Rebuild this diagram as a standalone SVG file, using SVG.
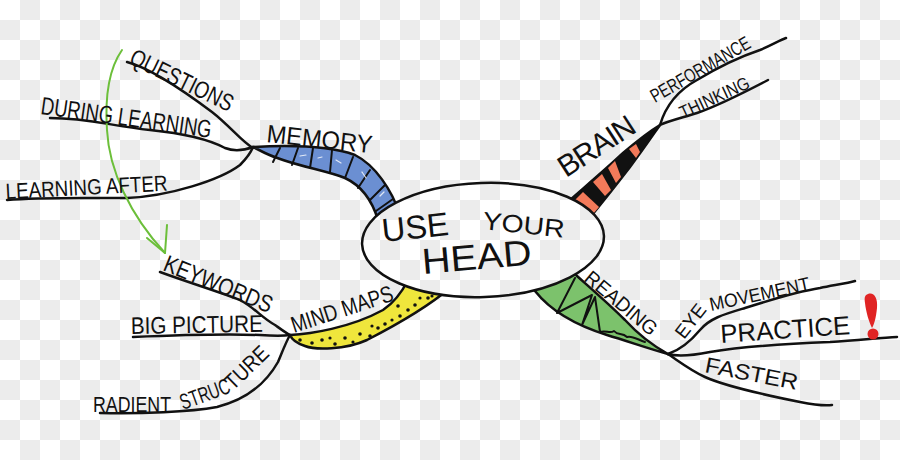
<svg xmlns="http://www.w3.org/2000/svg" width="900" height="460" viewBox="0 0 900 460">
<defs>
<pattern id="chk" width="40" height="40" patternUnits="userSpaceOnUse">
<rect width="40" height="40" fill="#ffffff"/>
<rect x="20" y="0" width="20" height="20" fill="#ececec"/>
<rect x="0" y="20" width="20" height="20" fill="#ececec"/>
</pattern>
<mask id="outside" maskUnits="userSpaceOnUse" x="0" y="0" width="900" height="460">
<rect width="900" height="460" fill="#fff"/>
<ellipse cx="483" cy="240" rx="121" ry="57" transform="rotate(-2 483 240)" fill="#000"/>
</mask>
</defs>
<style>
.ln{fill:none;stroke:#111;stroke-width:2.5;stroke-linecap:round;stroke-linejoin:round}
.thin{fill:none;stroke:#111;stroke-width:2;stroke-linecap:round;stroke-linejoin:round}
.band{stroke:#111;stroke-width:2.5;stroke-linejoin:round}
.t{font-family:"Liberation Sans","DejaVu Sans",sans-serif;fill:#111}
.hl{fill:none;stroke:#fff;stroke-width:1.2;stroke-linecap:round;opacity:0.8}
</style>
<rect width="900" height="460" fill="url(#chk)"/>

<g id="connectors">
<path class="ln" d="M127,62 C150,68 180,88 212,112 C230,126 242,142 253,148"/>
<path class="ln" d="M50,118 C90,118 110,126 150,130 C190,134 210,140 225,148 C235,152 245,150 253,147"/>
<path class="ln" d="M7,200 C40,197 80,198 127,198 C170,196 220,180 240,165 C247,158 251,152 253,147"/>
<path class="ln" d="M160,272 C190,283 220,292 240,300 C255,308 262,318 275,325 C282,330 286,333 290,335"/>
<path class="ln" d="M133,337 C180,335 230,334 260,335 C275,336 283,336 290,335"/>
<path class="ln" d="M100,413 C140,414 190,412 217,407 C245,400 265,385 278,362 C283,350 286,342 290,335"/>
<path class="ln" d="M660,125 C665,108 675,92 697,80 C720,66 745,55 760,50 C772,45 780,40 786,38"/>
<path class="ln" d="M660,125 C668,121 685,117 697,113 C720,105 745,92 768,80"/>
<path class="ln" d="M668,354 C680,350 690,342 700,330 C710,318 725,314 745,308 C770,300 795,292 820,288 C835,285 848,283 855,281"/>
<path class="ln" d="M668,354 C675,356 690,356 710,352 C740,347 780,344 830,342 C860,340 880,338 897,337"/>
<path class="ln" d="M668,354 C680,362 690,370 705,377 C725,386 760,394 800,402 C815,405 825,406 832,405"/>
<path d="M122,50 C108,70 105,100 107,130 C109,170 130,215 165,253" fill="none" stroke="#6cbf3a" stroke-width="2" stroke-linecap="round"/>
<path d="M147,238 L165,253 L167,225" fill="none" stroke="#6cbf3a" stroke-width="2" stroke-linecap="round" stroke-linejoin="round"/>
</g>

<g id="node-memory">
<g mask="url(#outside)">
<path class="band" fill="#6b8fd2" d="M253,147 C290,145 330,146 355,155 C375,165 392,190 400,215 L378,220 C372,200 360,185 345,178 C325,170 290,165 265,153 Z"/>
<g class="thin">
<path d="M280,148 L273,162"/><path d="M298,148 L292,165"/><path d="M313,148 L310,168"/>
<path d="M332,150 L330,172"/><path d="M353,157 L345,178"/><path d="M370,170 L358,188"/>
<path d="M385,185 L370,200"/><path d="M393,199 L376,211"/>
</g>
<g class="hl"><path d="M300,156 L306,155"/><path d="M336,160 L341,163"/><path d="M362,172 L366,178"/><path d="M380,196 L384,192"/><path d="M318,158 L322,157"/></g>
</g>
<text class="t" font-size="25" textLength="106" lengthAdjust="spacingAndGlyphs" transform="translate(266,142) rotate(6)">MEMORY</text>
</g>

<g id="node-mindmaps">
<g mask="url(#outside)">
<path class="band" fill="#efe63c" d="M290,335 C310,334 350,328 383,310 C395,302 402,292 408,280 L450,288 C430,305 400,323 367,340 C345,350 315,350 305,346 C296,343 292,340 290,335 Z"/>
<g fill="#111">
<circle cx="300" cy="340" r="1.8"/><circle cx="312" cy="343" r="1.8"/><circle cx="322" cy="340" r="1.8"/>
<circle cx="335" cy="344" r="1.8"/><circle cx="345" cy="338" r="1.8"/><circle cx="353" cy="342" r="1.6"/>
<circle cx="360" cy="334" r="1.8"/><circle cx="370" cy="336" r="1.8"/><circle cx="378" cy="328" r="1.8"/>
<circle cx="385" cy="324" r="1.8"/><circle cx="392" cy="320" r="1.6"/><circle cx="400" cy="316" r="1.8"/>
<circle cx="408" cy="310" r="1.8"/><circle cx="415" cy="305" r="1.8"/><circle cx="420" cy="298" r="1.6"/>
<circle cx="428" cy="298" r="1.8"/><circle cx="432" cy="296" r="1.6"/><circle cx="398" cy="306" r="1.8"/>
<circle cx="372" cy="326" r="1.6"/><circle cx="330" cy="338" r="1.6"/>
</g>
</g>
<text class="t" font-size="23" textLength="106" lengthAdjust="spacingAndGlyphs" transform="translate(294,333) rotate(-18)">MIND MAPS</text>
</g>

<g id="node-brain">
<g mask="url(#outside)">
<path class="band" fill="#111" d="M563,207 L570,200 C580,191 605,170 623,153 C637,141 650,131 660,125 C655,132 645,147 630,167 C620,180 610,193 592,215 L585,222 Z"/>
<g fill="#f37a5a">
<path d="M574,201 L583,192 L599,207 L593,214 Z"/>
<path d="M593,182 L602,174 L611,190 L605,196 Z"/>
<path d="M608,168 L615,161 L621,177 L616,183 Z"/>
<path d="M629,149 L636,144 L640,152 L636,158 Z"/>
</g>
</g>
<text class="t" font-size="30" textLength="86" lengthAdjust="spacing" transform="translate(566,178) rotate(-33)">BRAIN</text>
</g>

<g id="node-reading">
<g mask="url(#outside)">
<path class="band" fill="#7cc26c" d="M530,285 L535,291 C550,310 575,325 607,335 C630,342 650,349 668,354 C650,344 636,332 625,320 C610,305 595,292 577,276 L572,270 Z"/>
<path class="thin" d="M575,278 L557,313 L592,295 L582,325 L595,297 L600,332 C606,330 610,334 614,331 C618,336 622,332 627,337 C632,335 638,340 645,342"/>
</g>
<text class="t" font-size="20" textLength="88" lengthAdjust="spacingAndGlyphs" transform="translate(583,280) rotate(40)">READING</text>
</g>

<g id="node-center">
<ellipse cx="483" cy="240" rx="121" ry="57" transform="rotate(-2 483 240)" fill="none" stroke="#111" stroke-width="2.5"/>
<text class="t" font-size="33" textLength="67" lengthAdjust="spacingAndGlyphs" transform="translate(383,242) rotate(-6)">USE</text>
<text class="t" font-size="25" textLength="82" lengthAdjust="spacingAndGlyphs" transform="translate(482,229) rotate(6)">YOUR</text>
<text class="t" font-size="36" textLength="110" lengthAdjust="spacingAndGlyphs" transform="translate(423,274) rotate(-5)">HEAD</text>
</g>

<g id="node-questions"><text class="t" font-size="24" textLength="112" lengthAdjust="spacingAndGlyphs" transform="translate(128,63) rotate(26)">QUESTIONS</text></g>
<g id="node-during-learning"><text class="t" font-size="25" textLength="172" lengthAdjust="spacingAndGlyphs" transform="translate(40,114) rotate(8)">DURING LEARNING</text></g>
<g id="node-learning-after"><text class="t" font-size="22" textLength="162" lengthAdjust="spacingAndGlyphs" transform="translate(6,199) rotate(-3)">LEARNING AFTER</text></g>
<g id="node-keywords"><text class="t" font-size="24" textLength="115" lengthAdjust="spacingAndGlyphs" transform="translate(162,270) rotate(22)">KEYWORDS</text></g>
<g id="node-big-picture"><text class="t" font-size="24" textLength="132" lengthAdjust="spacingAndGlyphs" transform="translate(131,334) rotate(-1)">BIG PICTURE</text></g>
<g id="node-radient-structure">
<text class="t" font-size="22" textLength="78" lengthAdjust="spacingAndGlyphs" transform="translate(93,412)">RADIENT</text>
<text class="t" font-size="22" textLength="52" lengthAdjust="spacingAndGlyphs" transform="translate(183,410) rotate(-20)">STRUC</text>
<text class="t" font-size="22" textLength="52" lengthAdjust="spacingAndGlyphs" transform="translate(233,391) rotate(-44)">TURE</text>
</g>
<g id="node-performance"><text class="t" font-size="19" textLength="112" lengthAdjust="spacingAndGlyphs" transform="translate(655,103) rotate(-30)">PERFORMANCE</text></g>
<g id="node-thinking"><text class="t" font-size="18" textLength="75" lengthAdjust="spacingAndGlyphs" transform="translate(683,119) rotate(-25)">THINKING</text></g>
<g id="node-eye-movement">
<text class="t" font-size="19" textLength="38" lengthAdjust="spacingAndGlyphs" transform="translate(684,340) rotate(-52)">EYE</text>
<text class="t" font-size="19" textLength="102" lengthAdjust="spacingAndGlyphs" transform="translate(711,311) rotate(-12)">MOVEMENT</text>
</g>
<g id="node-practice">
<text class="t" font-size="26" textLength="130" lengthAdjust="spacingAndGlyphs" transform="translate(721,343) rotate(-4)">PRACTICE</text>
<path d="M868,294 C874,292 878,298 877,308 C876,318 874,325 872,328 C869,322 866,312 865,303 C864,297 865,295 868,294 Z" fill="#e02424"/>
<circle cx="873" cy="334" r="5.5" fill="#e02424"/>
</g>
<g id="node-faster"><text class="t" font-size="22" textLength="94" lengthAdjust="spacingAndGlyphs" transform="translate(704,372) rotate(11)">FASTER</text></g>
</svg>
